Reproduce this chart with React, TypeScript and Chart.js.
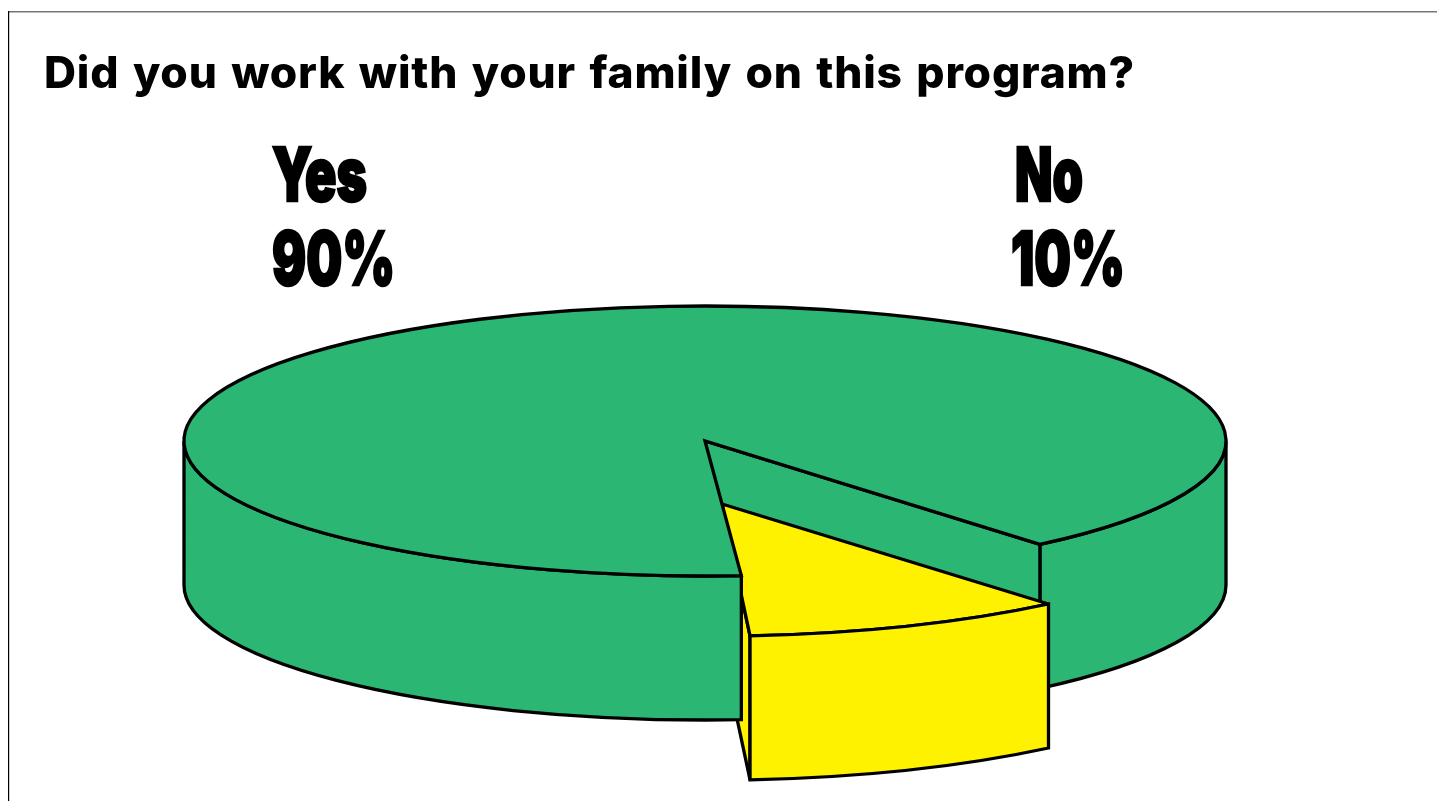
import React, { useEffect, useRef } from "react";
import { Chart, registerables } from "chart.js";

Chart.register(...registerables);

const categories = ["Yes", "No"];
const shares = [90, 10];
const sliceColors = ["#2BB673", "#FFF200"];
const chartTitle = "Did you work with your family on this program?";

type Geo = { cx: number; cy: number; a: number; b: number; c: number; d: number; depth: number };
const GREEN_GEO: Geo = { cx: 705, cy: 441, a: 521, b: 0, c: 0, d: 135, depth: 144 };
const YELLOW_GEO: Geo = { cx: 722, cy: 504, a: 517.6, b: -2.2, c: -8.1, d: 132.4, depth: 144 };
const LABEL_POS = [
  { x: 272, nameW: 95, valueX: 272, valueW: 123 },
  { x: 1015, nameW: 68, valueX: 1011, valueW: 114 },
];

function fitText(ctx: CanvasRenderingContext2D, text: string, x: number, y: number, width: number, stroke: boolean) {
  const w = ctx.measureText(text).width;
  ctx.save();
  ctx.translate(x, y);
  ctx.scale(width / w, 1);
  ctx.fillText(text, 0, 0);
  if (stroke) ctx.strokeText(text, 0, 0);
  ctx.restore();
}

function arcPath(ctx: CanvasRenderingContext2D, g: Geo, a0: number, a1: number, dy = 0, ccw = false) {
  ctx.save();
  ctx.transform(g.a, g.b, g.c, g.d, g.cx, g.cy + dy);
  ctx.arc(0, 0, 1, a0, a1, ccw);
  ctx.restore();
}

function paint(ctx: CanvasRenderingContext2D, fill: string) {
  ctx.fillStyle = fill;
  ctx.fill();
  ctx.stroke();
}

function topFace(ctx: CanvasRenderingContext2D, g: Geo, a0: number, a1: number, fill: string) {
  ctx.beginPath();
  ctx.moveTo(g.cx, g.cy);
  arcPath(ctx, g, a0, a1);
  ctx.closePath();
  paint(ctx, fill);
}

function rimWall(ctx: CanvasRenderingContext2D, g: Geo, a0: number, a1: number, fill: string) {
  ctx.beginPath();
  arcPath(ctx, g, a0, a1);
  arcPath(ctx, g, a1, a0, g.depth, true);
  ctx.closePath();
  paint(ctx, fill);
}

function radialWall(ctx: CanvasRenderingContext2D, g: Geo, angle: number, fill: string) {
  const px = g.cx + g.a * Math.cos(angle) + g.c * Math.sin(angle);
  const py = g.cy + g.b * Math.cos(angle) + g.d * Math.sin(angle);
  ctx.beginPath();
  ctx.moveTo(g.cx, g.cy);
  ctx.lineTo(px, py);
  ctx.lineTo(px, py + g.depth);
  ctx.lineTo(g.cx, g.cy + g.depth);
  ctx.closePath();
  paint(ctx, fill);
}

const pie3d = {
  id: "pie3d",
  beforeDraw(chart: any) {
    const { ctx } = chart;
    ctx.save();
    ctx.fillStyle = "#777777";
    ctx.fillRect(8, 11, 1429, 1.5);
    ctx.fillStyle = "#000000";
    ctx.fillRect(8, 11, 1.2, 790);
    ctx.restore();
  },
  beforeDatasetsDraw(chart: any) {
    const { ctx } = chart;
    const [yes, no] = chart.getDatasetMeta(0).data as any[];
    const colors = chart.data.datasets[0].backgroundColor as string[];
    const TWO_PI = Math.PI * 2;
    ctx.save();
    ctx.strokeStyle = "#000000";
    ctx.lineWidth = 3.3;
    ctx.lineJoin = "miter";
    ctx.miterLimit = 3;
    rimWall(ctx, GREEN_GEO, 0, yes.endAngle - TWO_PI, colors[0]);
    radialWall(ctx, GREEN_GEO, yes.endAngle, colors[0]);
    radialWall(ctx, YELLOW_GEO, no.endAngle, colors[1]);
    topFace(ctx, YELLOW_GEO, no.startAngle, no.endAngle, colors[1]);
    rimWall(ctx, YELLOW_GEO, no.startAngle, no.endAngle, colors[1]);
    rimWall(ctx, GREEN_GEO, yes.startAngle, Math.PI, colors[0]);
    topFace(ctx, GREEN_GEO, yes.startAngle, yes.endAngle, colors[0]);
    ctx.restore();
    return false;
  },
  afterDraw(chart: any) {
    const { ctx } = chart;
    const values = chart.data.datasets[0].data as number[];
    ctx.save();
    ctx.fillStyle = "#000000";
    ctx.strokeStyle = "#000000";
    ctx.textBaseline = "alphabetic";
    ctx.textAlign = "left";
    ctx.font = "800 44px Inter";
    ctx.letterSpacing = "0.8px";
    ctx.wordSpacing = "3px";
    fitText(ctx, chartTitle, 44, 87.5, 1091, false);
    ctx.letterSpacing = "0px";
    ctx.wordSpacing = "0px";
    ctx.font = "900 74px Inter";
    ctx.lineWidth = 2.5;
    ctx.lineJoin = "miter";
    (chart.data.labels as string[]).forEach((name, i) => {
      const p = LABEL_POS[i];
      fitText(ctx, name, p.x, 201, p.nameW, true);
      fitText(ctx, `${values[i]}%`, p.valueX, 285, p.valueW, true);
    });
    ctx.restore();
  },
};

export default function App() {
  const ref = useRef<HTMLCanvasElement>(null);
  useEffect(() => {
    const chart = new Chart(ref.current!, {
      type: "pie",
      data: {
        labels: categories,
        datasets: [{ data: shares, backgroundColor: sliceColors, borderWidth: 0 }],
      },
      options: {
        animation: false,
        responsive: false,
        rotation: 176,
        plugins: { legend: { display: false }, tooltip: { enabled: false } },
      },
      plugins: [pie3d],
    } as any);
    return () => chart.destroy();
  }, []);
  return (
    <canvas
      ref={ref}
      width={1437}
      height={801}
      style={{ position: "fixed", left: 0, top: 0, width: 1437, height: 801 }}
    />
  );
}
